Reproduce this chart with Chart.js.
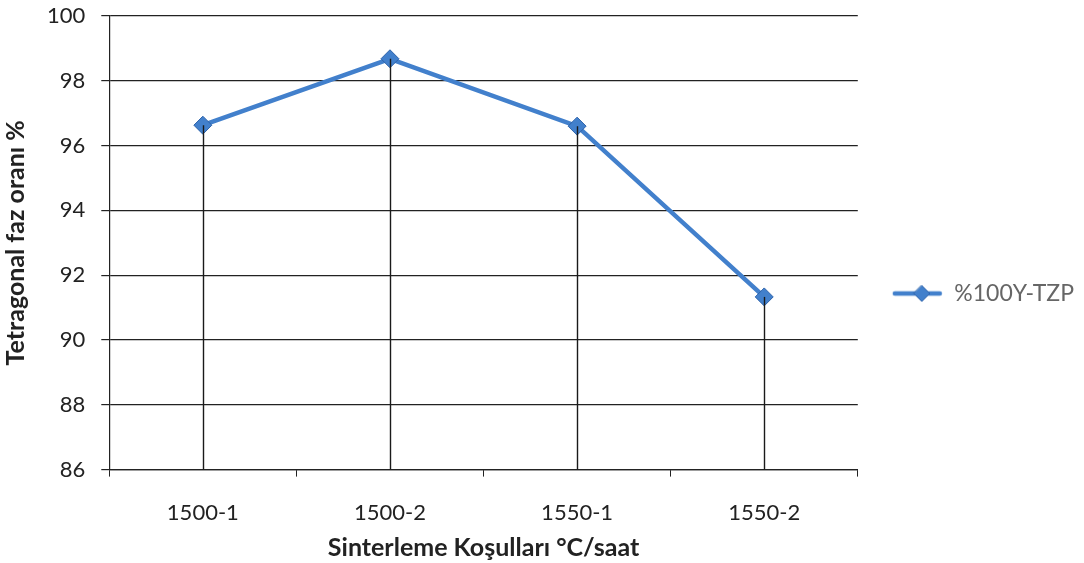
<!DOCTYPE html>
<html>
<head>
<meta charset="utf-8">
<script src="https://cdn.jsdelivr.net/npm/chart.js@4/dist/chart.umd.min.js"></script>
<style>
  html, body { margin: 0; padding: 0; background: #fff; }
  #wrap { width: 1084px; height: 563px; }
</style>
</head>
<body>
<div id="wrap"><canvas id="tzpChart"></canvas></div>
<script>
// Sinterleme koşulları ve tetragonal faz oranları
const kosullar = ['1500-1', '1500-2', '1550-1', '1550-2'];
const tetragonalOran = [96.63, 98.68, 96.6, 91.33];
const seriAdi = '%100Y-TZP';

const MAVI = '#4280cc';
const KOYU_MAVI = '#2d62aa';
const IKON_GENISLIK = 78;

// Legend simgesi: çizgi + elmas (solda boşluk bırakılır)
function legendIcon() {
    const c = document.createElement('canvas');
    c.width = IKON_GENISLIK; c.height = 18;
    const ctx = c.getContext('2d');
    ctx.strokeStyle = MAVI;
    ctx.lineWidth = 4.5;
    ctx.lineCap = 'round';
    ctx.beginPath(); ctx.moveTo(30, 9); ctx.lineTo(IKON_GENISLIK - 3, 9); ctx.stroke();
    ctx.fillStyle = MAVI;
    ctx.strokeStyle = KOYU_MAVI;
    ctx.lineWidth = 1;
    ctx.beginPath();
    ctx.moveTo(57, 1); ctx.lineTo(65, 9); ctx.lineTo(57, 17); ctx.lineTo(49, 9); ctx.closePath();
    ctx.fill(); ctx.stroke();
    return c;
}
const icon = legendIcon();

// Noktalardan x eksenine inen dikey çizgiler
const dusmeCizgileri = {
    id: 'dusmeCizgileri',
    afterDatasetsDraw(chart) {
        const ctx = chart.ctx;
        const alt = chart.scales.y.getPixelForValue(chart.scales.y.min);
        const meta = chart.getDatasetMeta(0);
        ctx.save();
        ctx.strokeStyle = '#1a1a1a';
        ctx.lineWidth = 1.4;
        meta.data.forEach(p => {
            ctx.beginPath();
            ctx.moveTo(Math.round(p.x) + 0.5, p.y);
            ctx.lineTo(Math.round(p.x) + 0.5, alt);
            ctx.stroke();
        });
        ctx.restore();
    }
};

const data = {
    labels: kosullar,
    datasets: [{
        label: seriAdi,
        data: tetragonalOran,
        borderColor: MAVI,
        borderWidth: 4.5,
        backgroundColor: MAVI,
        pointStyle: 'rectRot',
        pointRadius: 9,
        pointBorderColor: KOYU_MAVI,
        pointBorderWidth: 1,
        tension: 0
    }]
};

const options = {
    responsive: true,
    maintainAspectRatio: false,
    animation: false,
    layout: { autoPadding: false, padding: { top: 0, right: 0, bottom: 0, left: 1 } },
    plugins: {
        legend: {
            position: 'right',
            title: { display: true, text: ' ', font: { size: 10 }, padding: 6 },
            labels: {
                usePointStyle: true,
                pointStyleWidth: IKON_GENISLIK,
                boxHeight: 18,
                padding: 7,
                color: '#222',
                font: { family: 'Lato', size: 23 },
                generateLabels(chart) {
                    return [{ text: seriAdi, pointStyle: icon, datasetIndex: 0, fillStyle: MAVI, strokeStyle: MAVI, lineWidth: 0 }];
                }
            }
        },
        tooltip: { enabled: false }
    },
    scales: {
        x: {
            offset: true,
            grid: { offset: true, drawOnChartArea: false, drawTicks: true, tickLength: 7, color: '#222' },
            border: { color: '#222', width: 1.2 },
            ticks: { color: '#222', font: { family: 'Lato', size: 22 }, padding: 23 },
            title: {
                display: true,
                text: 'Sinterleme Koşulları °C/saat',
                color: '#222',
                font: { family: 'Lato', size: 25, weight: 'bold' },
                padding: { top: -16, bottom: 0 }
            }
        },
        y: {
            min: 86,
            max: 100,
            ticks: { stepSize: 2, color: '#222', font: { family: 'Lato', size: 22 }, padding: 16 },
            grid: { color: '#222', lineWidth: 1.2, tickLength: 8 },
            border: { color: '#222', width: 1.2 },
            // etiket boşluğu üst/alt kenara eklenmesin
            afterFit(scale) {
                scale.paddingTop = 16;
                scale.paddingBottom = 13;
            },
            title: {
                display: true,
                text: 'Tetragonal faz oranı %',
                color: '#222',
                font: { family: 'Lato', size: 25, weight: 'bold' },
                padding: { top: 0, bottom: 0 }
            }
        }
    }
};

new Chart('tzpChart', { type: 'line', data, options, plugins: [dusmeCizgileri] });
</script>
</body>
</html>
